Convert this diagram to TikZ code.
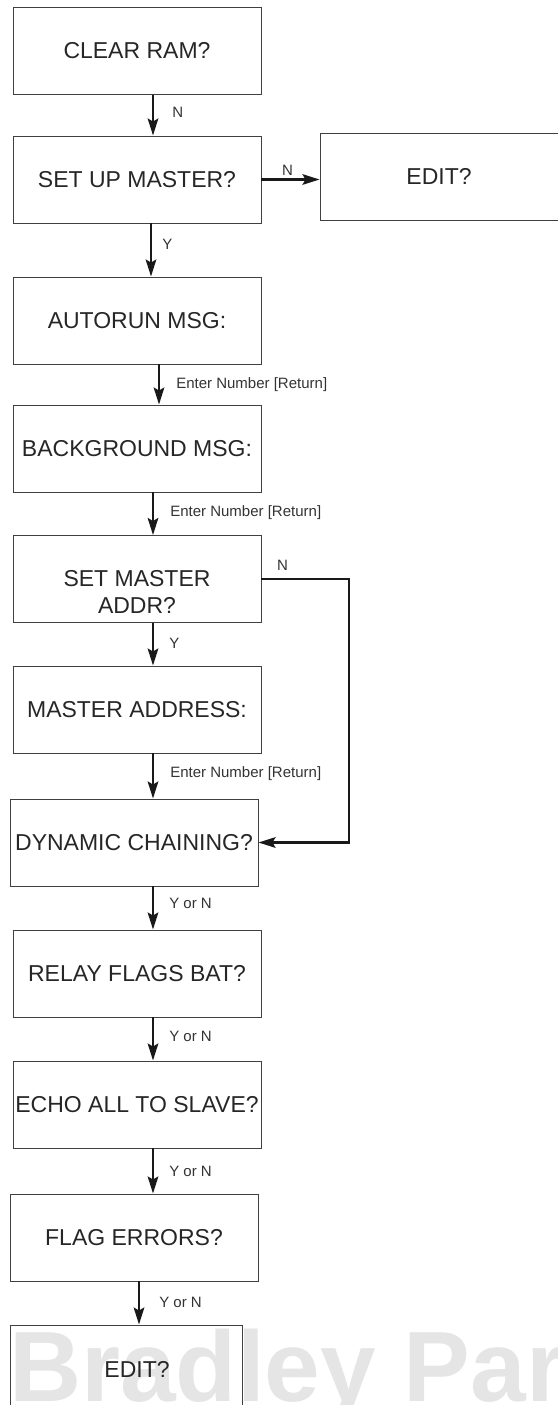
\documentclass[tikz,border=0pt]{standalone}
\usepackage{fontspec}
\setmainfont{Liberation Sans}
\usetikzlibrary{arrows.meta}

\begin{document}
\begin{tikzpicture}[x=1pt, y=-1pt,
  box/.style={draw=black!75, line width=0.9pt, rectangle, minimum width=248pt,
    minimum height=87pt, inner sep=0pt, text=black!85,
    font=\fontsize{23}{27}\selectfont, align=center},
  boxtext/.style={inner sep=0pt, text=black!85, font=\fontsize{23}{27}\selectfont, align=center},
  flow/.style={draw=black!90, line width=2.6pt,
    -{Stealth[length=17pt, width=10.5pt, inset=3pt]}},
  lbl/.style={inner sep=0pt, text=black!80, font=\fontsize{15}{17}\selectfont},
  watermark/.style={inner sep=0pt, anchor=base west, text=black!10,
    font=\fontsize{100}{100}\selectfont\bfseries}]

\useasboundingbox (0,0) rectangle (557,1405);

% watermark behind the last box
\node[watermark] (wm) at (9,1401) {Bradley Par};

% boxes
\node[box] (b1) at (137,51) {CLEAR RAM?};
\node[box] (b2) at (137,179.5) {SET UP MASTER?};
\node[box, minimum width=238pt] (edit) at (439,176.5) {EDIT?};
\node[box] (b3) at (137,320.5) {AUTORUN MSG:};
\node[box] (b4) at (137,448.5) {BACKGROUND MSG:};
\node[box] (b5) at (137,579) {};
\node[boxtext] (t5) at (137,592) {SET MASTER\\ADDR?};
\node[box] (b6) at (137,709.5) {MASTER ADDRESS:};
\node[box] (b7) at (134,842.5) {DYNAMIC CHAINING?};
\node[box] (b8) at (137,973.5) {RELAY FLAGS BAT?};
\node[box] (b9) at (137,1104.5) {ECHO ALL TO SLAVE?};
\node[box] (b10) at (134,1237.5) {FLAG ERRORS?};
\node[box, minimum width=232pt] (b11) at (126,1368.5) {};
\node[boxtext] (t11) at (137,1369) {EDIT?};

% x positions of the vertical connectors
\coordinate (xa) at (153,0);
\coordinate (xb) at (151,0);
\coordinate (xc) at (159,0);
\coordinate (xd) at (139,0);
\coordinate (loopx) at (349,0);

% connectors
\draw[flow] (b1.south -| xa) -- node[lbl, right, xshift=18pt, pos=0.42] {N} (b2.north -| xa);
\draw[flow] (b2.east) -- node[lbl, above, yshift=3pt, pos=0.45] {N} (b2.east -| edit.west);
\draw[flow] (b2.south -| xb) -- node[lbl, right, xshift=10pt, pos=0.4] {Y} (b3.north -| xb);
\draw[flow] (b3.south -| xc) -- node[lbl, right, xshift=16pt, pos=0.5] {Enter Number [Return]} (b4.north -| xc);
\draw[flow] (b4.south -| xa) -- node[lbl, right, xshift=16pt, pos=0.47] {Enter Number [Return]} (b5.north -| xa);
\draw[flow] (b5.south -| xa) -- node[lbl, right, xshift=15pt, pos=0.47] {Y} (b6.north -| xa);
\draw[flow] (b6.south -| xa) -- node[lbl, right, xshift=16pt, pos=0.45] {Enter Number [Return]} (b7.north -| xa);
\draw[flow] (b7.south -| xa) -- node[lbl, right, xshift=15pt, pos=0.4] {Y or N} (b8.north -| xa);
\draw[flow] (b8.south -| xa) -- node[lbl, right, xshift=15pt, pos=0.45] {Y or N} (b9.north -| xa);
\draw[flow] (b9.south -| xa) -- node[lbl, right, xshift=15pt, pos=0.5] {Y or N} (b10.north -| xa);
\draw[flow] (b10.south -| xd) -- node[lbl, right, xshift=19pt, pos=0.48] {Y or N} (b11.north -| xd);
\draw[flow] (b5.east) -- node[lbl, above, yshift=7pt, pos=0.24] {N} (b5.east -| loopx) |- (b7.east);

\end{tikzpicture}
\end{document}
